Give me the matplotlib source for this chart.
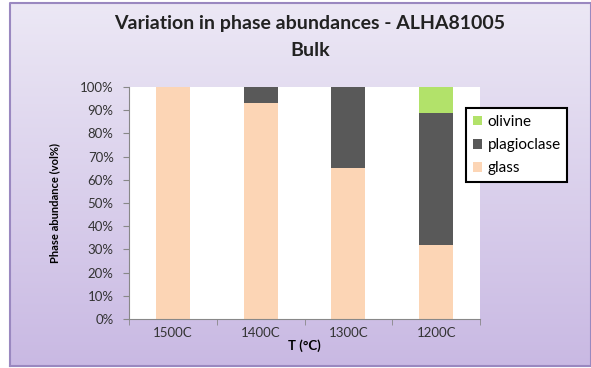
import numpy as np
import matplotlib.pyplot as plt
from matplotlib.colors import LinearSegmentedColormap

temps = ['1500C', '1400C', '1300C', '1200C']
glass = [100, 93, 65, 32]
plagioclase = [0, 7, 35, 57]
olivine = [0, 0, 0, 11]

plt.rcParams['font.family'] = ['Lato', 'DejaVu Sans']

W, H = 591, 368
fig = plt.figure(figsize=(W / 100, H / 100), dpi=100)

# purple gradient panel with a thin frame (white margin on the left/top)
x0, x1, y0, y1 = 10 / W, 1.0, 2 / H, 1 - 3 / H
bg = fig.add_axes([0, 0, 1, 1], zorder=-10)
grad = np.linspace(0, 1, 256).reshape(-1, 1)
cmap = LinearSegmentedColormap.from_list('bg', ['#ece8f5', '#c9b9e3'])
bg.imshow(grad, aspect='auto', cmap=cmap, extent=[x0, x1, y0, y1])
bg.plot([x0, x1, x1, x0, x0], [y0, y0, y1, y1, y0], color='#9a88c0', lw=1.5)
bg.set_xlim(0, 1)
bg.set_ylim(0, 1)
bg.axis('off')

ax = fig.add_axes([129 / W, 1 - 319 / H, 351 / W, 232 / H])
x = np.arange(len(temps))
w = 0.39
ax.bar(x, glass, w, color='#fcd5b5', label='glass')
ax.bar(x, plagioclase, w, bottom=glass, color='#595959', label='plagioclase')
bot = np.array(glass) + np.array(plagioclase)
ax.bar(x, olivine, w, bottom=bot, color='#b2e26a', label='olivine')

ax.set_xlim(-0.5, len(temps) - 0.5)
ax.set_ylim(0, 100)
ax.set_yticks(range(0, 101, 10))
ax.set_yticklabels([f'{v}%' for v in range(0, 101, 10)], fontsize=9.5, color='#333333')
ax.set_xticks(x)
ax.set_xticklabels(temps, fontsize=9.5, color='#333333')
ax.set_xticks(np.arange(-0.5, len(temps)), minor=True)
ax.tick_params(axis='x', which='major', length=0, pad=6)
ax.tick_params(axis='x', which='minor', length=4, color='#888888')
ax.tick_params(axis='y', length=4, color='#888888', pad=7)
for s in ['top', 'right']:
    ax.spines[s].set_visible(False)
for s in ['left', 'bottom']:
    ax.spines[s].set_color('#888888')
ax.set_facecolor('white')

ax.set_ylabel('Phase abundance (vol%)', fontsize=8, fontweight='bold', labelpad=14)
ax.set_xlabel('T (°C)', fontsize=9.5, fontweight='bold', labelpad=0)

fig.text(310 / W, 1 - 23 / H, 'Variation in phase abundances - ALHA81005', ha='center',
         va='center', fontsize=14, fontweight='bold', color='#222222')
fig.text(310 / W, 1 - 51 / H, 'Bulk', ha='center', va='center', fontsize=14,
         fontweight='bold', color='#222222')

h, l = ax.get_legend_handles_labels()
leg = fig.legend(h[::-1], l[::-1], loc='upper left',
                 bbox_to_anchor=(466 / W, 1 - 108 / H),
                 fontsize=11, frameon=True, fancybox=False, handlelength=0.6,
                 handleheight=0.6, handletextpad=0.35, labelspacing=0.6,
                 borderpad=0.45, borderaxespad=0)
leg.get_frame().set_edgecolor('black')
leg.get_frame().set_linewidth(1.5)
leg.get_frame().set_alpha(1)

fig.savefig('out.png', dpi=100)
